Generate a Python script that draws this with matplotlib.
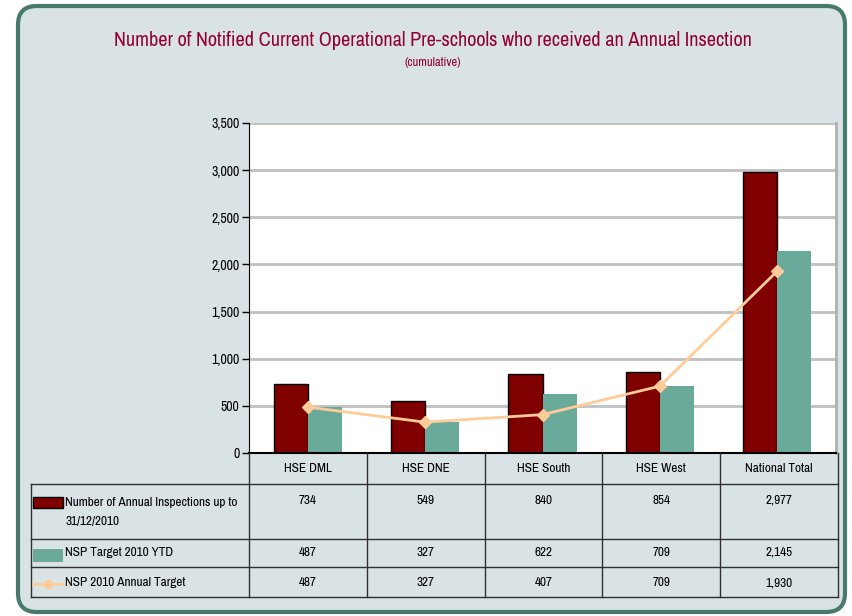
import matplotlib
matplotlib.use("Agg")
import matplotlib.pyplot as plt
from matplotlib.patches import FancyBboxPatch, Rectangle
from matplotlib.lines import Line2D
import numpy as np

categories = ["HSE DML", "HSE DNE", "HSE South", "HSE West", "National Total"]
inspections = [734, 549, 840, 854, 2977]
target_ytd = [487, 327, 622, 709, 2145]
annual_target = [487, 327, 407, 709, 1930]
series_names = ["Number of Annual Inspections up to\n31/12/2010", "NSP Target 2010 YTD", "NSP 2010 Annual Target"]
yticks = [0, 500, 1000, 1500, 2000, 2500, 3000, 3500]

FONT = ["Liberation Sans Narrow", "Arial Narrow", "Archivo Narrow", "PT Sans Narrow",
        "Roboto Condensed", "Liberation Sans", "DejaVu Sans"]
plt.rcParams["font.family"] = FONT

W, H = 852, 616
fig = plt.figure(figsize=(W / 100, H / 100), dpi=100)
fig.patch.set_facecolor("white")

def fx(x):
    return x / W

def fy(y):
    return 1 - y / H

RED = "#800000"
TEAL = "#6aaa9a"
PEACH = "#ffcc99"
TITLE = "#93002f"
BG = "#d9e2e5"
GRIDC = "#c0c0c0"
TLINE = "#303030"

# background rounded rect
bg = FancyBboxPatch((fx(18), fy(612)), fx(845) - fx(18), fy(6) - fy(612),
                    boxstyle="round,pad=0,rounding_size=0.022",
                    transform=fig.transFigure, facecolor=BG, edgecolor="#477a6a",
                    linewidth=3, mutation_aspect=W / H, zorder=-5)
fig.add_artist(bg)

fig.text(fx(433), fy(40), "Number of Notified Current Operational Pre-schools who received an Annual Insection",
         ha="center", va="center", color=TITLE, fontsize=14.6, fontweight="medium")
fig.text(fx(433), fy(62), "(cumulative)", ha="center", va="center", color=TITLE, fontsize=9)

L, R, T, B = 249, 836, 123, 453
ax = fig.add_axes([fx(L), fy(B), fx(R) - fx(L), fy(T) - fy(B)])
ax.set_zorder(1)
ax.set_facecolor("white")
x = np.arange(len(categories))
bw = 0.29
ax.bar(x - bw / 2, inspections, width=bw, color=RED, edgecolor="black", linewidth=1, zorder=3)
ax.bar(x + bw / 2, target_ytd, width=bw, color=TEAL, edgecolor="none", zorder=3)
ax.plot(x, annual_target, color=PEACH, linewidth=2, marker="D", markersize=6, zorder=4)
ax.set_xlim(-0.5, len(categories) - 0.5)
ax.set_ylim(0, 3500)
ax.set_yticks(yticks)
ax.set_yticklabels([f"{v:,}" for v in yticks], fontsize=10)
ax.yaxis.grid(True, color=GRIDC, linewidth=2, zorder=0)
ax.set_axisbelow(True)
ax.tick_params(axis="y", direction="out", length=5, width=1, color="black", pad=2)
ax.set_xticks([])
ax.spines["top"].set_visible(False)
ax.spines["right"].set_color("#b0b0b0")
ax.spines["right"].set_linewidth(2)
ax.spines["left"].set_color("black")
ax.spines["bottom"].set_color("black")
ax.spines["bottom"].set_linewidth(1.5)
ax.spines["bottom"].set_zorder(6)

# table
col_edges = [L + (R + 2 - L) * i / len(categories) for i in range(len(categories) + 1)]
row_y = [453, 484, 539, 567, 597]
tl = 31

def hline(x0, x1, y, c=TLINE, lw=1):
    fig.add_artist(Line2D([fx(x0), fx(x1)], [fy(y), fy(y)], transform=fig.transFigure, color=c, linewidth=lw))

def vline(x, y0, y1, c=TLINE, lw=1):
    fig.add_artist(Line2D([fx(x), fx(x)], [fy(y0), fy(y1)], transform=fig.transFigure, color=c, linewidth=lw))

for ce in col_edges:
    vline(ce, row_y[0], row_y[-1])
vline(tl, row_y[1], row_y[-1])
for yy in row_y[1:]:
    hline(tl, col_edges[-1], yy)

FS = 9.5
for i, c in enumerate(categories):
    cx = (col_edges[i] + col_edges[i + 1]) / 2
    fig.text(fx(cx), fy(468), c, ha="center", va="center", fontsize=FS)
    fig.text(fx(cx), fy(500), f"{inspections[i]:,}", ha="center", va="center", fontsize=FS)
    fig.text(fx(cx), fy(552), f"{target_ytd[i]:,}", ha="center", va="center", fontsize=FS)
    fig.text(fx(cx), fy(583), f"{annual_target[i]:,}", ha="center", va="center", fontsize=FS)

lines0 = series_names[0].split("\n")
fig.text(fx(65), fy(503), lines0[0], ha="left", va="center", fontsize=FS)
fig.text(fx(65), fy(522), lines0[1], ha="left", va="center", fontsize=FS)
fig.text(fx(65), fy(552), series_names[1], ha="left", va="center", fontsize=FS)
fig.text(fx(65), fy(583), series_names[2], ha="left", va="center", fontsize=FS)

fig.add_artist(Rectangle((fx(33), fy(508)), fx(63) - fx(33), fy(497) - fy(508), transform=fig.transFigure,
                         facecolor=RED, edgecolor="black", linewidth=1))
fig.add_artist(Rectangle((fx(33), fy(562)), fx(63) - fx(33), fy(549) - fy(562), transform=fig.transFigure,
                         facecolor=TEAL, edgecolor="none"))
fig.add_artist(Line2D([fx(33), fx(63)], [fy(584), fy(584)], transform=fig.transFigure, color=PEACH, linewidth=2))
fig.add_artist(Line2D([fx(48)], [fy(584)], transform=fig.transFigure, color=PEACH, marker="D", markersize=5))

fig.savefig("out.png", dpi=100)
